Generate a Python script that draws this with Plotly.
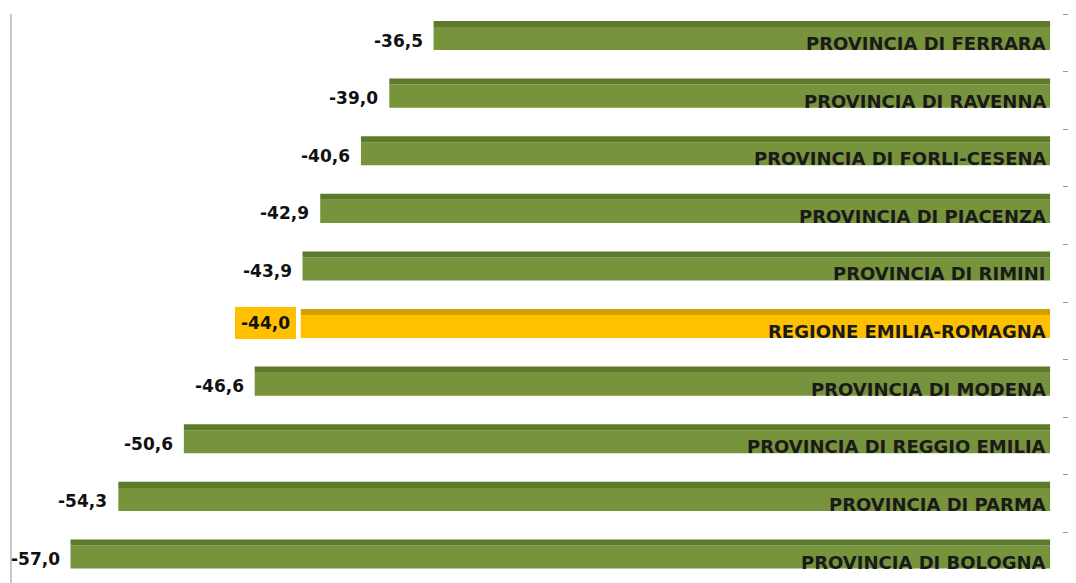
import plotly.graph_objects as go

categories = [
    "PROVINCIA DI FERRARA",
    "PROVINCIA DI RAVENNA",
    "PROVINCIA DI FORLI-CESENA",
    "PROVINCIA DI PIACENZA",
    "PROVINCIA DI RIMINI",
    "REGIONE EMILIA-ROMAGNA",
    "PROVINCIA DI MODENA",
    "PROVINCIA DI REGGIO EMILIA",
    "PROVINCIA DI PARMA",
    "PROVINCIA DI BOLOGNA",
]
values = [-36.5, -39.0, -40.6, -42.9, -43.9, -44.0, -46.6, -50.6, -54.3, -57.0]
value_labels = ["-36,5", "-39,0", "-40,6", "-42,9", "-43,9", "-44,0", "-46,6", "-50,6", "-54,3", "-57,0"]
highlight = "REGIONE EMILIA-ROMAGNA"

# styles
GREEN_FRONT = "#77933C"
GREEN_TOP = "#5C7A2A"
YELLOW_FRONT = "#FFC000"
YELLOW_TOP = "#D4A000"
BAR_END = -1.69          # visible right end of the bars (value units)
FRONT_W = 0.40
TOP_W = 0.105
TICK_OFF = -0.425
FONT = "DejaVu Sans"

pos = list(range(len(categories)))
is_hl = [c == highlight for c in categories]
front_cols = [YELLOW_FRONT if h else GREEN_FRONT for h in is_hl]
top_cols = [YELLOW_TOP if h else GREEN_TOP for h in is_hl]
lengths = [v - BAR_END for v in values]

fig = go.Figure()
fig.add_trace(go.Bar(
    y=pos, x=lengths, base=BAR_END, orientation="h",
    width=FRONT_W, offset=-FRONT_W / 2,
    marker=dict(color=front_cols, line=dict(width=0)),
    hoverinfo="skip",
))
fig.add_trace(go.Bar(
    y=pos, x=lengths, base=BAR_END, orientation="h",
    width=TOP_W, offset=-FRONT_W / 2 - TOP_W,
    marker=dict(color=top_cols, line=dict(width=0)),
    hoverinfo="skip",
))

annotations = []
for p, c, v, lab, h in zip(pos, categories, values, value_labels, is_hl):
    annotations.append(dict(
        x=BAR_END, y=p, xref="x", yref="y", text=c, showarrow=False,
        xanchor="right", yanchor="middle", xshift=-2, yshift=-5,
        font=dict(family=FONT, size=18, color="#1a1a1a", weight="bold"),
    ))
    annotations.append(dict(
        x=v, y=p, xref="x", yref="y", text=lab, showarrow=False,
        xanchor="right", yanchor="middle",
        xshift=-5 if h else -11, yshift=4 if h else -2,
        font=dict(family=FONT, size=17, color="#111111", weight="bold"),
        bgcolor=YELLOW_FRONT if h else "rgba(0,0,0,0)",
        borderpad=6 if h else 0, borderwidth=0,
    ))

fig.update_layout(
    width=1068, height=575,
    margin=dict(l=3, r=6, t=0, b=0),
    paper_bgcolor="white", plot_bgcolor="white",
    barmode="overlay", showlegend=False, separators=",.",
    annotations=annotations,
    xaxis=dict(range=[-60.36, -0.565], showgrid=False, zeroline=False,
               showticklabels=False, ticks="", showline=False, fixedrange=True),
    yaxis=dict(range=[9.451, -0.530], side="right", showgrid=False, zeroline=False,
               showticklabels=False, showline=False,
               tickmode="array", tickvals=[p + TICK_OFF for p in pos],
               ticks="inside", ticklen=7, tickwidth=1, tickcolor="#9a9a9a"),
    shapes=[dict(type="line", xref="paper", yref="y", x0=0, x1=0,
                 y0=TICK_OFF, y1=9.451, line=dict(color="#B4B4B4", width=1.5))],
)

fig.write_html("out.html")
